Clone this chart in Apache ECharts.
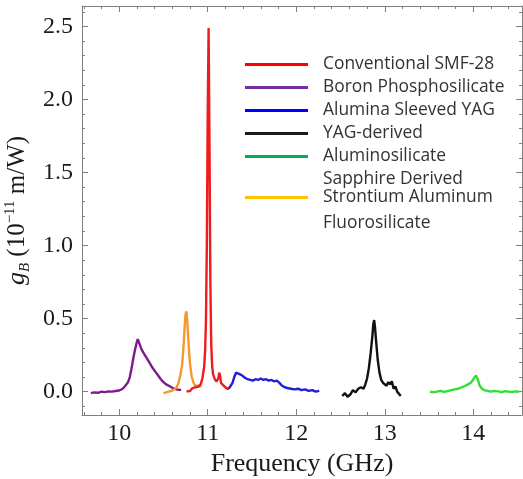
<!DOCTYPE html>
<html>
<head>
<meta charset="utf-8">
<script src="https://cdn.jsdelivr.net/npm/echarts@6/dist/echarts.min.js"></script>
<style>
  html, body { margin: 0; padding: 0; background: #fff; }
  #chart { width: 523px; height: 479px; }
</style>
</head>
<body>
<div id="chart"></div>
<script>
// Brillouin gain spectra of several fibres (gain vs frequency)
const seriesNames = [
  'Conventional SMF-28',
  'Boron Phosphosilicate',
  'Alumina Sleeved YAG',
  'YAG-derived',
  'Aluminosilicate',
  'Strontium Aluminum'
];
const secondLines = ['Sapphire Derived', 'Fluorosilicate'];

const smfFreq = [10.76,10.78,10.80,10.82,10.84,10.86,10.88,10.90,10.92,10.94,10.96,10.97,10.98,10.99,11.00,11.01,11.02,11.03,11.04,11.05,11.06,11.08,11.10,11.12,11.13,11.14,11.15,11.16,11.18,11.20,11.22,11.24];
const smfGain = [0.0,0.01,0.005,0.02,0.015,0.03,0.025,0.035,0.05,0.09,0.17,0.27,0.48,1.0,1.9,2.49,1.7,0.75,0.32,0.18,0.12,0.085,0.07,0.09,0.13,0.11,0.06,0.07,0.04,0.03,0.02,0.025];

const boronFreq = [9.68,9.72,9.76,9.80,9.84,9.88,9.92,9.96,10.00,10.04,10.07,10.10,10.12,10.14,10.16,10.18,10.20,10.21,10.22,10.24,10.26,10.29,10.32,10.35,10.38,10.41,10.44,10.47,10.50,10.53,10.56,10.59,10.62,10.65,10.68,10.70];
const boronGain = [-0.01,-0.005,-0.008,0.0,-0.003,0.002,0.0,0.004,0.008,0.02,0.04,0.065,0.1,0.16,0.23,0.29,0.34,0.36,0.35,0.31,0.28,0.25,0.22,0.19,0.16,0.135,0.11,0.085,0.065,0.05,0.04,0.03,0.02,0.015,0.012,0.012];

const yagSleeveFreq = [11.22,11.25,11.28,11.30,11.32,11.34,11.36,11.39,11.42,11.45,11.48,11.51,11.54,11.57,11.60,11.63,11.66,11.69,11.72,11.75,11.78,11.81,11.84,11.87,11.90,11.94,11.98,12.02,12.06,12.10,12.14,12.18,12.22,12.26];
const yagSleeveGain = [0.015,0.03,0.06,0.1,0.13,0.135,0.12,0.11,0.095,0.085,0.08,0.075,0.085,0.08,0.09,0.08,0.085,0.075,0.08,0.07,0.075,0.06,0.04,0.03,0.025,0.02,0.015,0.02,0.01,0.015,0.005,0.01,0.0,0.005];

const yagFreq = [12.52,12.55,12.58,12.61,12.64,12.67,12.70,12.73,12.76,12.78,12.80,12.82,12.84,12.86,12.87,12.88,12.89,12.90,12.92,12.94,12.96,12.98,13.00,13.02,13.04,13.06,13.08,13.10,13.12,13.14,13.16,13.18];
const yagGain = [-0.03,-0.01,-0.035,-0.02,0.01,-0.005,0.02,0.03,0.02,0.05,0.09,0.16,0.26,0.38,0.46,0.49,0.44,0.36,0.22,0.13,0.08,0.06,0.07,0.04,0.065,0.05,0.07,0.02,0.035,0.0,-0.015,-0.03];

const sapphireFreq = [13.51,13.55,13.59,13.63,13.67,13.71,13.75,13.79,13.83,13.87,13.91,13.94,13.97,13.99,14.01,14.03,14.05,14.07,14.09,14.12,14.16,14.20,14.24,14.28,14.32,14.36,14.40,14.44,14.48,14.52];
const sapphireGain = [0.0,-0.005,0.0,0.005,-0.002,0.004,0.01,0.015,0.02,0.03,0.04,0.05,0.06,0.075,0.095,0.11,0.085,0.045,0.025,0.01,0.005,0.0,0.005,0.002,-0.003,0.003,0.0,-0.002,0.002,0.0];

const strontiumFreq = [10.50,10.53,10.56,10.59,10.62,10.65,10.67,10.69,10.71,10.72,10.73,10.74,10.75,10.76,10.77,10.78,10.79,10.80,10.82,10.84,10.86,10.88,10.90,10.93];
const strontiumGain = [-0.01,-0.005,0.0,0.005,0.015,0.03,0.06,0.11,0.18,0.25,0.34,0.45,0.53,0.55,0.47,0.37,0.27,0.19,0.10,0.06,0.04,0.035,0.04,0.035];

const xMajorTicks = [10, 11, 12, 13, 14];
const xMinorTicks = [9.6,9.8,10.2,10.4,10.6,10.8,11.2,11.4,11.6,11.8,12.2,12.4,12.6,12.8,13.2,13.4,13.6,13.8,14.2,14.4];
const yMajorTicks = [0, 0.5, 1.0, 1.5, 2.0, 2.5];
const yMinorTicks = [-0.1,0.1,0.2,0.3,0.4,0.6,0.7,0.8,0.9,1.1,1.2,1.3,1.4,1.6,1.7,1.8,1.9,2.1,2.2,2.3,2.4,2.6];

const curveColors = ['#ee1c1c', '#7d1a8c', '#1f1fd8', '#111111', '#2fe02f', '#f4992a'];
const legendColors = ['#ff0000', '#7030a0', '#0000ff', '#1a1a1a', '#00b050', '#ffc000'];

const freqs = [smfFreq, boronFreq, yagSleeveFreq, yagFreq, sapphireFreq, strontiumFreq];
const gains = [smfGain, boronGain, yagSleeveGain, yagGain, sapphireGain, strontiumGain];

const X_MIN = 9.58, X_MAX = 14.55, Y_MIN = -0.16, Y_MAX = 2.64;
const FRAME = '#7f7f7f';
const SERIF = '"Liberation Serif", "Times New Roman", serif';
const SANS = '"Open Sans", sans-serif';

function frameAxis(pos, min, max, ticks, tickLen, withLine, labels, extra) {
  return Object.assign({
    type: 'value',
    position: pos,
    min: min,
    max: max,
    axisLine: { show: withLine, onZero: false, lineStyle: { color: FRAME, width: 1 } },
    axisTick: { show: true, inside: true, length: tickLen, customValues: ticks, lineStyle: { color: FRAME, width: 1 } },
    axisLabel: labels ? Object.assign({ show: true }, labels) : { show: false },
    splitLine: { show: false },
    minorTick: { show: false }
  }, extra || {});
}

const xLabelCfg = { customValues: xMajorTicks, color: '#1a1a1a', fontFamily: SERIF, fontSize: 24, margin: 7 };
const yLabelCfg = { customValues: yMajorTicks, color: '#1a1a1a', fontFamily: SERIF, fontSize: 24, margin: 9,
  formatter: v => v.toFixed(1) };

const xAxes = [
  frameAxis('bottom', X_MIN, X_MAX, xMajorTicks, 6, true, xLabelCfg, {
    name: 'Frequency (GHz)', nameLocation: 'middle', nameGap: 34,
    nameTextStyle: { fontFamily: SERIF, fontSize: 26, color: '#1a1a1a' }
  }),
  frameAxis('bottom', X_MIN, X_MAX, xMinorTicks, 3, false, null),
  frameAxis('top', X_MIN, X_MAX, xMajorTicks, 6, true, null),
  frameAxis('top', X_MIN, X_MAX, xMinorTicks, 3, false, null)
];

const yAxes = [
  frameAxis('left', Y_MIN, Y_MAX, yMajorTicks, 6, true, yLabelCfg, {
    name: '{g|g}{b|B}{t| (10}{s|−11}{t| m/W)}',
    nameLocation: 'middle', nameGap: 35,
    nameTextStyle: {
      fontFamily: SERIF, fontSize: 25, color: '#1a1a1a',
      rich: {
        g: { fontFamily: SERIF, fontSize: 26, fontStyle: 'italic', color: '#1a1a1a', lineHeight: 30 },
        b: { fontFamily: SERIF, fontSize: 15, fontStyle: 'italic', color: '#1a1a1a', lineHeight: 15, verticalAlign: 'bottom' },
        t: { fontFamily: SERIF, fontSize: 25, color: '#1a1a1a', lineHeight: 30 },
        s: { fontFamily: SERIF, fontSize: 15, color: '#1a1a1a', lineHeight: 15, verticalAlign: 'top' }
      }
    }
  }),
  frameAxis('left', Y_MIN, Y_MAX, yMinorTicks, 3, false, null),
  frameAxis('right', Y_MIN, Y_MAX, yMajorTicks, 6, true, null),
  frameAxis('right', Y_MIN, Y_MAX, yMinorTicks, 3, false, null)
];

const series = seriesNames.map((name, i) => ({
  name: name,
  type: 'line',
  xAxisIndex: 0,
  yAxisIndex: 0,
  showSymbol: false,
  symbol: 'none',
  smooth: false,
  z: i === 0 ? 4 : 3,
  lineStyle: { color: curveColors[i], width: 2.4 },
  itemStyle: { color: curveColors[i] },
  data: freqs[i].map((f, k) => [f, gains[i][k]])
}));

const legendText = {
  fontFamily: SANS, fontSize: 17.4, color: '#333333', lineHeight: 17,
  padding: [0, 0, 0, 10]
};

function legendData(indices) {
  return indices.map(i => ({ name: seriesNames[i], itemStyle: { color: legendColors[i] } }));
}

const chart = echarts.init(document.getElementById('chart'), null, { renderer: 'canvas' });
chart.setOption({
  animation: false,
  backgroundColor: '#ffffff',
  grid: { left: 82, right: 1, top: 6, bottom: 64, containLabel: false, outerBoundsMode: 'none' },
  xAxis: xAxes,
  yAxis: yAxes,
  legend: [
    {
      left: 245, top: 56, orient: 'vertical', icon: 'rect', padding: 0,
      itemWidth: 63, itemHeight: 3, itemGap: 6,
      selectedMode: false, textStyle: legendText,
      data: legendData([0, 1, 2, 3, 4])
    },
    {
      left: 245, top: 189, orient: 'vertical', icon: 'rect', padding: 0,
      itemWidth: 63, itemHeight: 3, itemGap: 6,
      selectedMode: false, textStyle: legendText,
      data: legendData([5])
    }
  ],
  graphic: [
    { type: 'text', left: 323, top: 171, style: { text: secondLines[0], font: '17.4px "Open Sans", sans-serif', fill: '#333333' } },
    { type: 'text', left: 323, top: 215, style: { text: secondLines[1], font: '17.4px "Open Sans", sans-serif', fill: '#333333' } }
  ],
  series: series
});
</script>
</body>
</html>
